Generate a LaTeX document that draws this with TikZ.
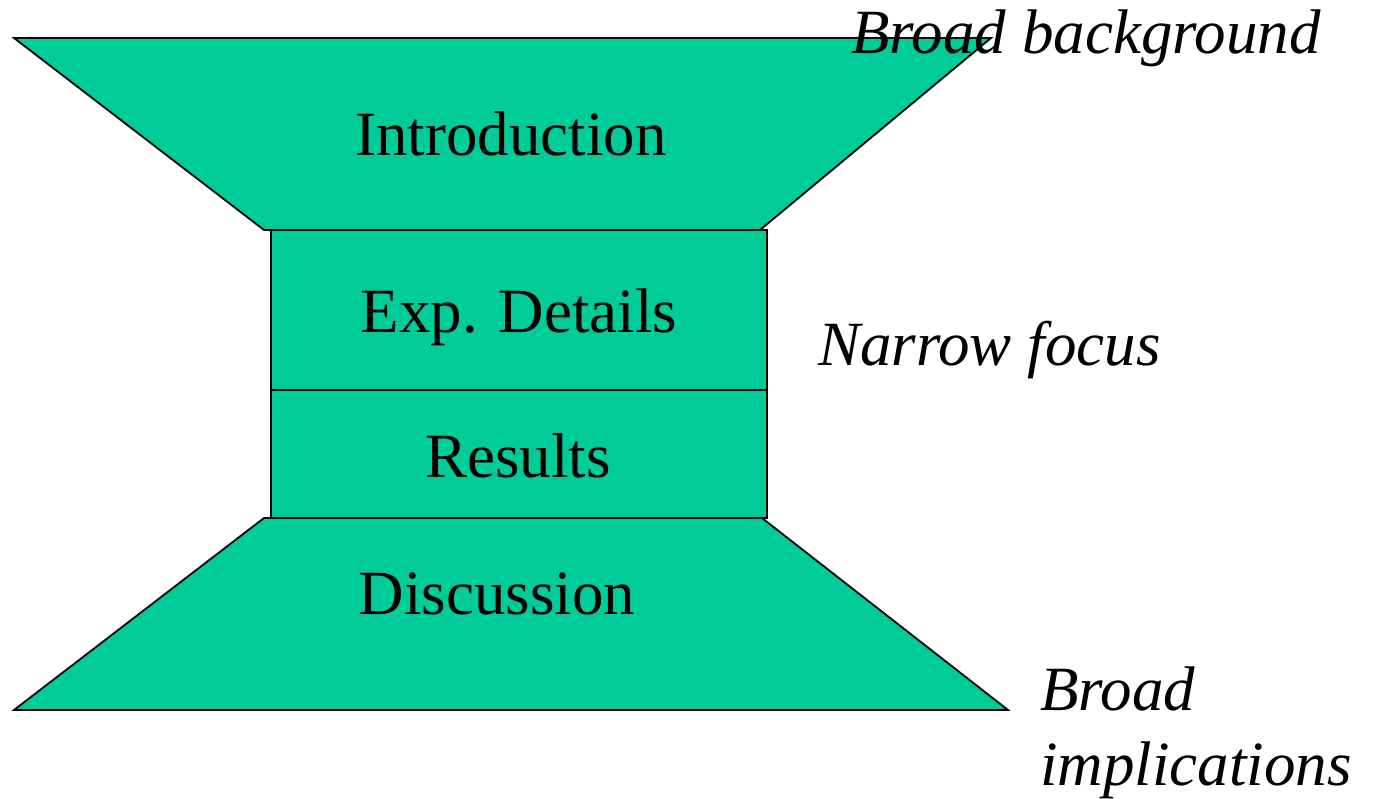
\documentclass[tikz,border=0pt]{standalone}
\usepackage{fontspec}
\setmainfont{Liberation Serif}
\definecolor{funnel}{HTML}{00CC99}

\begin{document}
\begin{tikzpicture}[
        x=1pt, y=-1pt,
        section/.style={fill=funnel, draw=black, line width=1.8pt, line join=miter},
        secname/.style={anchor=base, inner sep=0pt, font=\fontsize{63}{75}\selectfont},
        aside/.style={anchor=base west, inner sep=0pt, font=\fontsize{63}{75}\selectfont\itshape}
    ]
    \useasboundingbox (0,0) rectangle (1375,799);

    % funnel shapes
    \filldraw[section] (14,38) -- (991,38) -- (760,230) -- (264,230) -- cycle;
    \filldraw[section] (271,230) rectangle (767,390);
    \filldraw[section] (271,390) rectangle (767,518);
    \filldraw[section] (264,518) -- (762,518) -- (1008,710) -- (14,710) -- cycle;

    % section names
    \node[secname] (intro) at (511,156) {Introduction};
    \node[secname] (details) at (519,333) {Exp. Details};
    \node[secname] (results) at (518,477) {Results};
    \node[secname] (discussion) at (497,614) {Discussion};

    % side notes
    \node[aside] (background) at (851,54) {Broad background};
    \node[aside] (focus) at (818,365) {Narrow focus};
    \node[aside] (broad) at (1040,710) {Broad};
    \node[aside] (implications) at (1040,785) {implications};
\end{tikzpicture}
\end{document}
